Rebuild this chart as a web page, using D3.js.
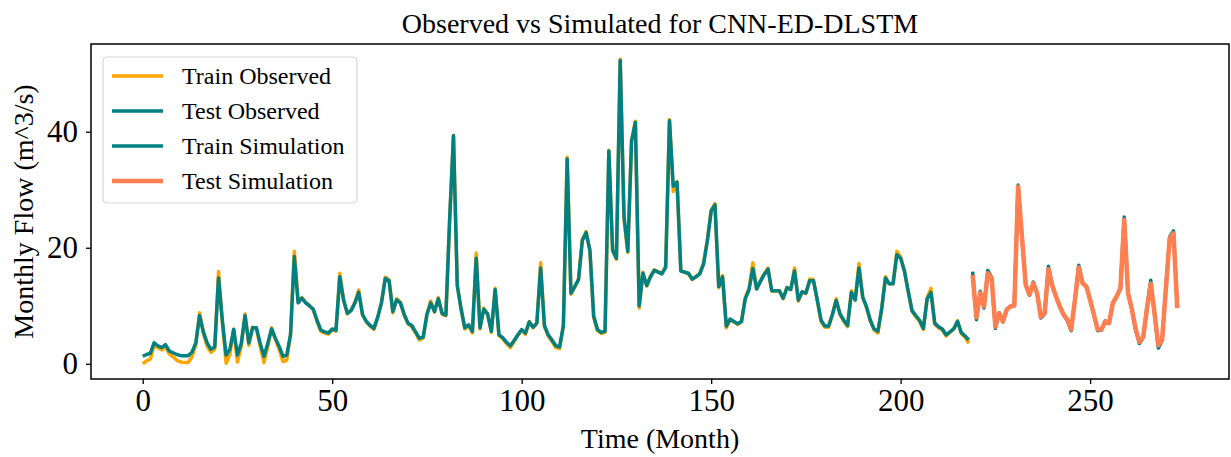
<!DOCTYPE html>
<html>
<head>
<meta charset="utf-8">
<script src="https://cdn.jsdelivr.net/npm/d3@7"></script>
<style>
  body { margin: 0; background: #ffffff; }
  svg { display: block; font-family: "Liberation Serif", "DejaVu Serif", serif; }
  .tick text { font-family: "Liberation Serif", serif; }
</style>
</head>
<body>
<script>

// monthly flow values (m^3/s)
var trainObserved = [
  0.0, 0.5, 0.8, 3.2, 2.8, 2.4, 3.0, 1.7, 1.2, 0.6,
  0.3, 0.2, 0.2, 1.2, 3.2, 8.8, 5.3, 3.0, 2.0, 2.5,
  15.9, 7.2, 0.1, 1.6, 6.0, 0.3, 3.0, 8.6, 3.2, 6.3,
  6.0, 3.0, 0.2, 3.0, 6.2, 4.2, 2.5, 0.4, 0.6, 5.0,
  19.4, 11.0, 11.4, 10.6, 10.0, 9.3, 7.3, 5.6, 5.3, 5.1,
  5.9, 5.6, 15.6, 11.0, 8.6, 9.2, 10.6, 12.7, 8.4, 7.2,
  6.5, 5.9, 8.0, 10.6, 14.9, 14.5, 8.8, 11.2, 10.6, 8.4,
  6.9, 6.4, 5.3, 4.1, 4.4, 8.6, 10.8, 8.9, 11.4, 8.5,
  8.3, 25.0, 39.4, 13.6, 9.4, 6.0, 6.6, 5.3, 19.1, 6.0,
  9.6, 8.5, 5.4, 13.0, 4.9, 4.3, 3.5, 2.8, 3.8, 4.9,
  5.8, 5.1, 7.3, 6.2, 7.0, 17.4, 6.4, 4.8, 3.8, 2.8,
  2.6, 6.4, 35.6, 12.0, 13.2, 14.6, 21.5, 22.8, 19.5, 8.0,
  5.7, 5.2, 5.4, 36.8, 19.4, 18.0, 52.5, 25.0, 19.2, 38.5,
  41.8, 9.6, 15.8, 13.4, 15.1, 16.2, 15.9, 15.6, 16.8, 42.1,
  29.7, 31.4, 16.0, 15.8, 15.5, 14.5, 15.0, 15.6, 17.4, 21.4,
  26.5, 27.6, 13.1, 15.2, 6.2, 7.6, 7.2, 6.8, 7.2, 11.4,
  13.0, 17.4, 12.9, 14.3, 15.5, 16.5, 12.5, 12.5, 12.6, 11.2,
  13.2, 12.8, 16.5, 10.8, 12.4, 12.1, 14.6, 14.5, 10.9, 7.3,
  6.3, 6.3, 8.5, 11.2, 8.5, 7.3, 6.4, 12.6, 11.0, 17.3,
  11.4, 9.7, 7.3, 5.8, 5.3, 9.5, 15.0, 13.8, 13.8, 19.4,
  18.4, 16.0, 12.4, 9.0, 8.1, 7.3, 5.9, 11.4, 13.0, 6.8,
  6.2, 5.8, 4.8, 5.4, 6.0, 7.4, 5.2, 4.6, 3.5
];

var trainSimulation = [
  1.3, 1.6, 1.8, 3.6, 3.1, 2.8, 3.3, 2.2, 1.9, 1.6,
  1.4, 1.4, 1.4, 2.0, 3.6, 8.3, 5.5, 3.6, 2.5, 2.9,
  14.8, 7.5, 1.5, 2.5, 5.9, 1.5, 3.5, 8.3, 3.6, 6.2,
  6.2, 3.5, 1.3, 3.5, 6.0, 4.4, 3.0, 1.3, 1.5, 5.0,
  18.5, 10.5, 11.3, 10.5, 10.0, 9.4, 7.5, 5.8, 5.5, 5.3,
  6.0, 5.8, 15.0, 11.0, 8.7, 9.2, 10.5, 12.3, 8.5, 7.3,
  6.6, 6.1, 8.0, 10.5, 14.7, 14.3, 9.0, 11.0, 10.5, 8.5,
  7.0, 6.6, 5.5, 4.4, 4.6, 8.5, 10.5, 9.0, 11.2, 8.7,
  8.4, 25.0, 39.3, 13.5, 9.5, 6.2, 6.7, 5.6, 18.2, 6.2,
  9.4, 8.6, 5.6, 12.8, 5.0, 4.5, 3.7, 3.1, 4.0, 5.0,
  5.9, 5.3, 7.2, 6.3, 7.0, 16.5, 6.6, 5.0, 4.1, 3.1,
  2.9, 6.6, 35.3, 12.2, 13.3, 14.5, 21.2, 22.6, 19.6, 8.2,
  5.9, 5.4, 5.6, 36.7, 19.6, 18.2, 52.3, 25.4, 19.4, 38.4,
  41.6, 10.0, 15.6, 13.5, 15.0, 16.1, 15.8, 15.5, 16.6, 41.9,
  30.6, 31.3, 16.0, 15.8, 15.6, 14.6, 15.0, 15.5, 17.2, 21.2,
  26.3, 27.4, 13.3, 15.0, 6.5, 7.7, 7.3, 6.9, 7.3, 11.2,
  12.8, 16.4, 12.9, 14.2, 15.4, 16.3, 12.6, 12.6, 12.6, 11.3,
  13.1, 12.8, 16.0, 11.0, 12.4, 12.2, 14.3, 14.3, 11.0, 7.5,
  6.5, 6.5, 8.5, 10.9, 8.6, 7.5, 6.6, 12.3, 11.0, 16.5,
  11.5, 9.8, 7.5, 6.0, 5.6, 9.5, 14.8, 13.8, 13.8, 18.8,
  18.2, 16.0, 12.5, 9.2, 8.3, 7.5, 6.1, 11.2, 12.3, 7.0,
  6.4, 6.0, 5.0, 5.5, 6.0, 7.3, 5.4, 4.8, 4.1
];

// test period starts right after the training period
var testStart = 219;

var testObserved = [
  15.9, 7.6, 12.5, 9.6, 16.1, 14.9, 6.1, 8.8, 7.2, 9.4,
  9.9, 10.0, 30.8, 21.8, 13.7, 11.8, 14.1, 12.2, 7.9, 8.6,
  16.8, 13.6, 11.6, 9.8, 8.4, 7.4, 5.7, 11.2, 17.0, 14.0,
  13.4, 11.0, 8.4, 5.7, 5.8, 7.4, 7.0, 10.5, 11.6, 13.0,
  25.3, 12.2, 9.4, 5.9, 3.5, 4.5, 9.6, 14.4, 8.6, 2.7,
  4.0, 13.2, 21.9, 22.9, 9.7
];

var testSimulation = [
  15.3, 8.0, 12.2, 9.9, 15.6, 14.8, 6.4, 8.7, 7.3, 9.3,
  9.9, 10.0, 30.5, 22.0, 13.6, 11.9, 13.9, 12.2, 8.1, 8.7,
  16.3, 13.5, 11.6, 9.9, 8.5, 7.6, 5.9, 11.0, 16.6, 13.9,
  13.3, 11.0, 8.5, 5.9, 5.9, 7.3, 7.0, 10.5, 11.6, 13.0,
  24.8, 12.2, 9.5, 6.0, 3.8, 4.6, 9.5, 13.8, 8.7, 3.2,
  4.1, 13.0, 21.6, 22.5, 9.6
];

var seriesNames = ["Train Observed", "Test Observed", "Train Simulation", "Test Simulation"];
var seriesColors = ["#ffa500", "#008080", "#008080", "#ff7f50"];
var seriesWidths = [3.5, 3.5, 3.5, 4.5];

var xTicks = [0, 50, 100, 150, 200, 250];
var yTicks = [0, 20, 40];

var width = 1231;
var height = 457;

// plot frame (pixels)
var frameLeft = 91, frameRight = 1229, frameTop = 44, frameBottom = 379;

// turn a value list into [month, value] pairs
function toPoints(values, start) {
  return values.map(function(v, i) { return [start + i, v]; });
}

var series = [
  toPoints(trainObserved, 0),
  toPoints(testObserved, testStart),
  toPoints(trainSimulation, 0),
  toPoints(testSimulation, testStart)
];

// domains with matplotlib style 5% margins
var allPoints = d3.merge(series);
var xExtent = d3.extent(allPoints, function(d) { return d[0]; });
var yExtent = d3.extent(allPoints, function(d) { return d[1]; });
var xPad = (xExtent[1] - xExtent[0]) * 0.05;
var yPad = (yExtent[1] - yExtent[0]) * 0.05;

var xScale = d3.scaleLinear()
               .domain([xExtent[0] - xPad, xExtent[1] + xPad])
               .range([frameLeft, frameRight]);

var yScale = d3.scaleLinear()
               .domain([yExtent[0] - yPad, yExtent[1] + yPad])
               .range([frameBottom, frameTop]);

var svg = d3.select("body")
            .append("svg")
            .attr("width", width)
            .attr("height", height);

// lines
var line = d3.line()
             .x(function(d) { return xScale(d[0]); })
             .y(function(d) { return yScale(d[1]); });

svg.append("g")
   .selectAll("path")
   .data(series)
   .enter()
   .append("path")
   .attr("d", line)
   .attr("fill", "none")
   .attr("stroke", function(d, i) { return seriesColors[i]; })
   .attr("stroke-width", function(d, i) { return seriesWidths[i]; })
   .attr("stroke-linejoin", "round")
   .attr("stroke-linecap", "butt");

// axes
var xAxis = d3.axisBottom(xScale).tickValues(xTicks).tickSize(5).tickPadding(5);
var yAxis = d3.axisLeft(yScale).tickValues(yTicks).tickSize(5).tickPadding(8);

var gx = svg.append("g")
            .attr("transform", "translate(0," + frameBottom + ")")
            .call(xAxis);

var gy = svg.append("g")
            .attr("transform", "translate(" + frameLeft + ",0)")
            .call(yAxis);

[gx, gy].forEach(function(g) {
  g.select(".domain").remove();
  g.selectAll(".tick line").attr("stroke", "#000").attr("stroke-width", 1.3);
  g.selectAll(".tick text")
   .attr("fill", "#000")
   .style("font-size", "31px");
});

// frame around the plot
svg.append("rect")
   .attr("x", frameLeft)
   .attr("y", frameTop)
   .attr("width", frameRight - frameLeft)
   .attr("height", frameBottom - frameTop)
   .attr("fill", "none")
   .attr("stroke", "#000")
   .attr("stroke-width", 1.5);

// title and axis titles
svg.append("text")
   .attr("x", (frameLeft + frameRight) / 2)
   .attr("y", 33)
   .attr("text-anchor", "middle")
   .style("font-size", "28px")
   .text("Observed vs Simulated for CNN-ED-DLSTM");

svg.append("text")
   .attr("x", (frameLeft + frameRight) / 2)
   .attr("y", 448)
   .attr("text-anchor", "middle")
   .style("font-size", "28px")
   .text("Time (Month)");

svg.append("text")
   .attr("transform", "translate(33," + ((frameTop + frameBottom) / 2) + ") rotate(-90)")
   .attr("text-anchor", "middle")
   .style("font-size", "28px")
   .text("Monthly Flow (m^3/s)");

// legend
var legend = svg.append("g")
                .attr("transform", "translate(103,57)");

legend.append("rect")
      .attr("width", 254)
      .attr("height", 146)
      .attr("rx", 4)
      .attr("fill", "#ffffff")
      .attr("fill-opacity", 0.8)
      .attr("stroke", "#d6d6d6")
      .attr("stroke-width", 1.2);

var items = legend.selectAll(".item")
                  .data(seriesNames)
                  .enter()
                  .append("g")
                  .attr("class", "item")
                  .attr("transform", function(d, i) { return "translate(0," + (19 + i * 35) + ")"; });

items.append("line")
     .attr("x1", 9)
     .attr("x2", 60)
     .attr("stroke", function(d, i) { return seriesColors[i]; })
     .attr("stroke-width", function(d, i) { return seriesWidths[i]; });

items.append("text")
     .attr("x", 79)
     .attr("y", 8)
     .style("font-size", "24px")
     .text(function(d) { return d; });

</script>
</body>
</html>
